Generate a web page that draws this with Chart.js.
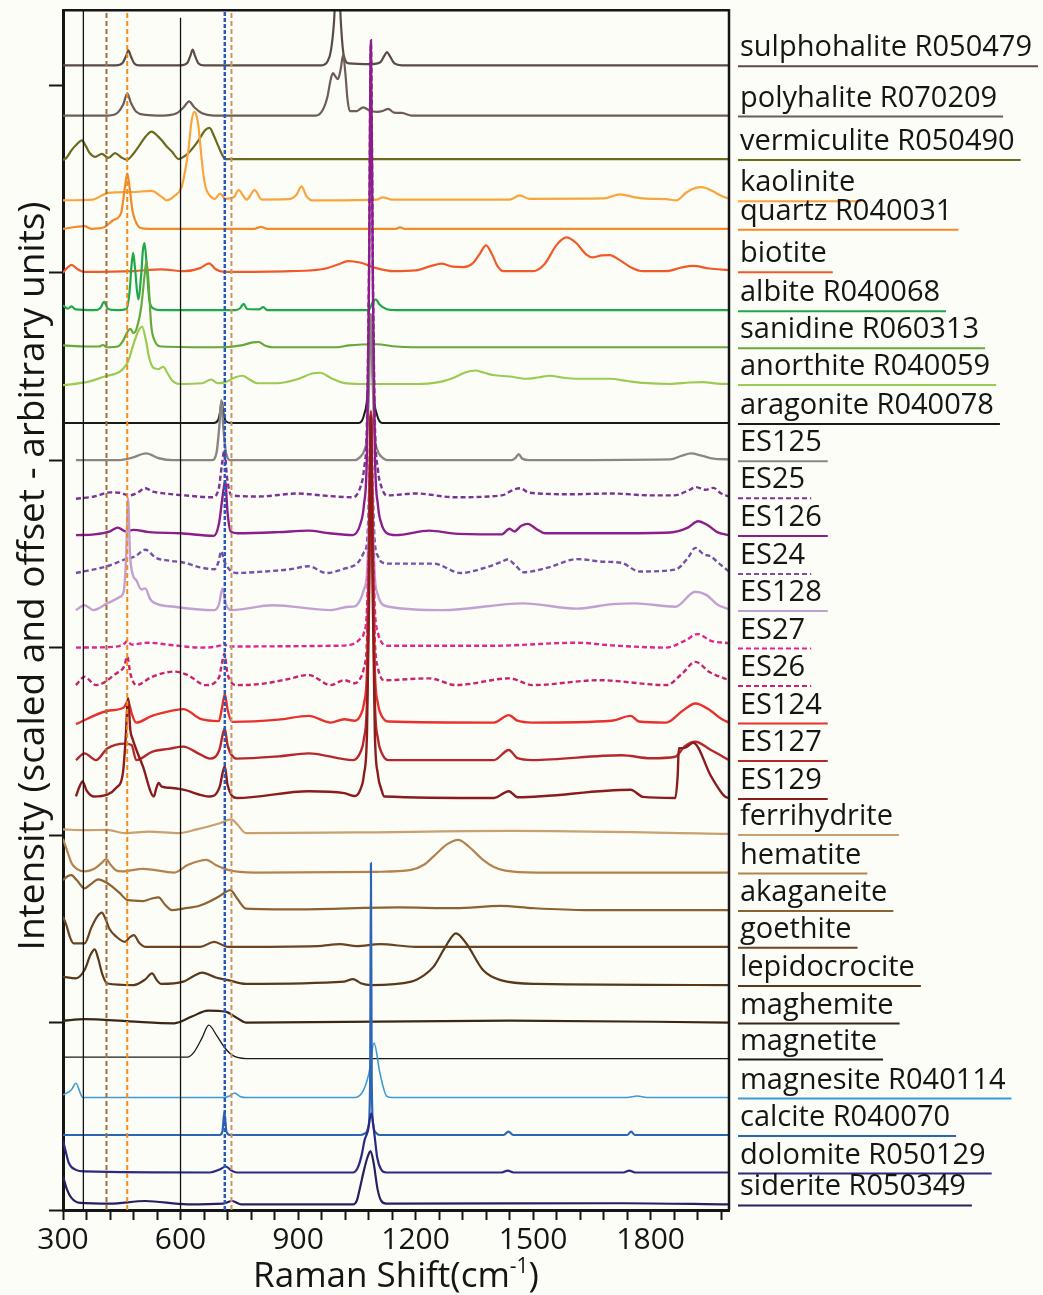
<!DOCTYPE html>
<html>
<head>
<meta charset="utf-8">
<script src="https://cdn.jsdelivr.net/npm/chart.js@4.4.1/dist/chart.umd.min.js"></script>
<style>
  html, body { margin: 0; padding: 0; background: #fdfdf8; }
  #wrap { width: 1043px; height: 1295px; }
</style>
</head>
<body>
<div id="wrap"><canvas id="raman" width="1043" height="1295"></canvas></div>
<script>
// each spectrum: [Raman shift (cm-1), intensity above its own baseline]
const sulphohalite = [[300,0],[435,0],[452,0.06],[461,0.25],[467,0.4],[473,0.25],[482,0.05],[495,0],[600,0],[617,0.06],[625,0.25],[631,0.42],[637,0.25],[646,0.05],[660,0],[960,0],[975,0.1],[984,0.4],[992,1.2],[1001,3.2],[1009,1.2],[1017,0.25],[1030,0.05],[1085,0.03],[1110,0.08],[1120,0.25],[1127,0.35],[1134,0.25],[1146,0.05],[1165,0],[2000,0]];
const polyhalite = [[300,0],[415,0],[440,0.08],[454,0.3],[464,0.59],[473,0.35],[487,0.1],[510,0.02],[555,0],[590,0.06],[608,0.22],[622,0.38],[635,0.22],[655,0.06],[685,0],[945,0],[963,0.15],[975,0.5],[983,0.95],[989,1.13],[995,1.05],[1002,0.97],[1009,1.25],[1015,1.61],[1021,1.1],[1026,0.45],[1032,0.12],[1050,0.12],[1066,0.22],[1085,0.12],[1101,0.1],[1118,0.13],[1130,0.18],[1145,0.08],[1165,0.07],[1190,0],[2000,0]];
const vermiculite = [[300,-0.03],[310,0.05],[322,0.24],[336,0.4],[348,0.5],[358,0.35],[368,0.16],[382,0.06],[399,0.14],[416,0.03],[433,0.16],[448,0.05],[463,-0.02],[478,0.12],[493,0.33],[511,0.6],[526,0.73],[541,0.62],[552,0.5],[566,0.32],[578,0.2],[595,0],[608,0.06],[620,0.16],[646,0.5],[662,0.76],[674,0.83],[686,0.6],[697,0.33],[706,0.12],[714,0],[2000,0]];
const kaolinite = [[300,0],[376,0.02],[416,0.2],[476,0.22],[526,0.25],[552,0.09],[565,0],[586,0.13],[603,0.36],[612,0.8],[620,1.33],[628,2.1],[635,2.36],[641,2.25],[646,1.96],[652,1.3],[658,0.71],[664,0.35],[671,0.18],[688,0.04],[701,0.18],[714,0.04],[736,0.08],[748,0.27],[769,0.02],[789,0.27],[807,0.02],[876,0.03],[896,0.15],[909,0.37],[921,0.12],[936,0],[1100,0.02],[1117,0.08],[1140,0.02],[1440,0.02],[1466,0.13],[1490,0.04],[1680,0.05],[1722,0.16],[1760,0.08],[1800,0.04],[1840,0.03],[1866,0],[1890,0.2],[1915,0.33],[1930,0.35],[1955,0.26],[1980,0.12],[2000,0.04]];
const quartz = [[300,0],[355,0.07],[372,0],[405,0.04],[428,0.23],[448,0.41],[458,1.1],[464,1.48],[470,1.1],[477,0.5],[484,0.23],[497,0.03],[520,0],[790,0],[805,0.05],[820,0],[1150,0],[1160,0.04],[1172,0],[2000,0]];
const biotite = [[300,-0.04],[310,0.08],[322,0.17],[336,0.06],[355,-0.02],[480,0],[550,0.05],[610,0],[650,0.08],[673,0.21],[690,0.05],[710,-0.02],[880,0],[960,0.05],[1000,0.17],[1028,0.27],[1058,0.23],[1100,0.08],[1143,0],[1200,0.02],[1240,0.14],[1267,0.2],[1295,0.12],[1322,0.11],[1345,0.2],[1363,0.45],[1380,0.69],[1395,0.45],[1410,0.12],[1424,0],[1500,0],[1530,0.2],[1560,0.7],[1585,0.9],[1610,0.75],[1635,0.45],[1653,0.37],[1675,0.42],[1696,0.43],[1720,0.3],[1750,0.1],[1781,0],[1840,0],[1880,0.1],[1909,0.14],[1950,0.07],[2000,0.03]];
const albite = [[300,0.13],[312,0.04],[322,0.1],[332,0.02],[380,0],[395,0.05],[405,0.22],[415,0.03],[440,0],[462,0.03],[470,0.5],[475,1.2],[479,1.53],[484,1.1],[492,0.29],[500,1.0],[504,1.6],[508,1.79],[513,1.3],[520,0.3],[530,0.05],[550,0],[740,0],[752,0.05],[761,0.17],[770,0.03],[800,0.02],[811,0.08],[822,0],[1080,0],[1090,0.2],[1098,0.29],[1108,0.15],[1125,0.03],[1150,0],[2000,0]];
const sanidine = [[300,0.05],[360,0.02],[392,0.02],[402,0.06],[412,0],[440,0.02],[452,0.15],[464,0.4],[472,0.49],[480,0.38],[488,0.5],[500,1.1],[508,1.9],[513,2.3],[518,1.8],[525,0.6],[533,0.2],[552,0.02],[700,0],[755,0.05],[785,0.13],[800,0.14],[815,0.05],[835,0],[1000,0],[1030,0.05],[1100,0.08],[1150,0.02],[1190,0],[2000,0]];
const anorthite = [[300,-0.03],[360,0.05],[407,0.2],[440,0.3],[450,0.37],[466,0.6],[481,1.1],[494,1.45],[502,1.53],[511,1.2],[520,0.7],[531,0.43],[544,0.4],[556,0.46],[566,0.3],[578,0.1],[596,0],[655,0.02],[678,0.12],[695,0.02],[715,0.05],[740,0.18],[758,0.22],[776,0.12],[796,0.02],[846,0.02],[896,0.12],[936,0.28],[956,0.3],[986,0.15],[1016,0.03],[1060,0],[1200,0],[1260,0.05],[1296,0.16],[1325,0.3],[1352,0.36],[1375,0.3],[1398,0.24],[1440,0.2],[1483,0.14],[1515,0.18],[1543,0.22],[1575,0.17],[1611,0.14],[1696,0.14],[1740,0.08],[1781,0.03],[1850,0],[1900,0.04],[1934,0.05],[1970,0.01],[2000,0]];
const aragonite = [[300,0],[685,0],[696,0.08],[701,0.3],[705,0.58],[709,0.3],[715,0.06],[728,0],[1055,0],[1068,0.2],[1078,0.9],[1085,2.9],[1092,0.9],[1102,0.2],[1115,0],[2000,0]];
const es125 = [[333,0],[440,0],[475,0.06],[512,0.18],[545,0.05],[580,0],[680,0],[692,0.2],[699,0.9],[704,1.6],[709,0.9],[716,0.2],[728,0],[1045,0],[1060,0.1],[1068,0.23],[1076,0.66],[1081,1.95],[1086,3.9],[1091,1.95],[1096,0.66],[1104,0.23],[1112,0.1],[1128,0],[1445,0],[1455,0.06],[1463,0.16],[1472,0.04],[1490,0],[1850,0.02],[1880,0.12],[1903,0.18],[1930,0.12],[1960,0.04],[2000,0.02]];
const es25 = [[333,-0.04],[380,0.02],[420,0.13],[445,0.12],[470,0.05],[490,0.12],[510,0.24],[530,0.15],[560,0.1],[610,0.05],[680,0],[697,0.2],[706,0.9],[712,1.25],[719,0.5],[730,0.05],[800,0.02],[900,0.1],[960,0.05],[1040,0],[1060,0.3],[1068,0.73],[1076,2.06],[1081,6.05],[1086,12.1],[1091,6.05],[1096,2.06],[1104,0.73],[1112,0.3],[1127,0.05],[1200,0.1],[1300,0],[1420,0.05],[1450,0.2],[1467,0.24],[1490,0.12],[1600,0.08],[1700,0.1],[1800,0.05],[1860,0.05],[1900,0.2],[1915,0.27],[1940,0.2],[1960,0.25],[1980,0.1],[2000,0.02]];
const es126 = [[333,0],[380,0.02],[420,0.1],[440,0.2],[460,0.1],[480,0.14],[520,0.08],[600,0.05],[685,-0.02],[698,0.3],[707,1.0],[714,1.44],[720,0.6],[728,0.1],[745,0.05],[850,0.08],[926,0.12],[980,0.05],[1040,0],[1060,0.33],[1068,0.79],[1076,2.24],[1081,6.6],[1086,13.2],[1091,6.6],[1096,2.24],[1104,0.79],[1112,0.33],[1127,0.05],[1150,0],[1235,0.12],[1300,0.04],[1420,0.02],[1440,0.17],[1452,0.1],[1470,0.25],[1486,0.3],[1510,0.15],[1530,0.05],[1700,0.05],[1850,0.07],[1895,0.2],[1921,0.37],[1945,0.27],[1970,0.08],[2000,0]];
const es24 = [[333,0],[413,0.18],[458,0.36],[485,0.45],[510,0.62],[538,0.4],[570,0.33],[607,0.28],[650,0.15],[687,0.1],[697,0.3],[704,0.58],[712,0.3],[744,0],[800,0.03],[880,0.1],[927,0.18],[972,0],[1020,0.12],[1050,0.25],[1061,0.4],[1068,0.55],[1076,0.8],[1081,2.1],[1086,4.2],[1091,2.1],[1096,0.8],[1104,0.45],[1112,0.3],[1132,0.25],[1246,0.25],[1315,0],[1380,0.15],[1420,0.3],[1435,0.36],[1455,0.2],[1475,0.02],[1540,0.15],[1612,0.37],[1680,0.3],[1726,0.27],[1771,0.04],[1863,0.09],[1895,0.4],[1914,0.67],[1935,0.5],[1954,0.44],[1975,0.25],[2000,0.04]];
const es128 = [[333,0],[355,0.13],[378,0],[413,0.18],[447,0.36],[455,0.5],[461,1.4],[466,2.98],[471,1.5],[478,0.95],[487,0.8],[500,0.55],[510,0.58],[522,0.3],[532,0.2],[584,0.09],[687,0],[698,0.15],[707,0.58],[716,0.15],[732,0],[835,0.13],[983,0],[1029,0.09],[1045,0.1],[1060,0.3],[1068,0.55],[1076,1.0],[1081,2.55],[1086,5.1],[1091,2.55],[1096,0.9],[1104,0.4],[1112,0.19],[1132,0.09],[1269,0],[1475,0.18],[1612,0.04],[1703,0.16],[1760,0.18],[1863,0.09],[1914,0.49],[1943,0.4],[1970,0.15],[2000,0.02]];
const es27 = [[333,0],[430,0.02],[456,0.1],[464,0.18],[475,0.08],[515,0.13],[584,0.06],[650,0],[700,0.05],[709,0.13],[720,0.03],[1000,0.05],[1040,0.09],[1060,0.25],[1068,0.39],[1076,1.05],[1081,3.1],[1086,6.2],[1091,3.1],[1096,1.05],[1104,0.39],[1112,0.16],[1130,0.05],[1400,0.05],[1612,0.13],[1700,0.06],[1840,0],[1890,0.2],[1920,0.36],[1954,0.18],[2000,0.12]];
const es26 = [[333,0],[355,0.22],[384,0],[436,0.31],[456,0.5],[464,0.76],[472,0.3],[487,0],[527,0.22],[584,0.36],[618,0.27],[664,0],[698,0.2],[706,0.6],[712,0.84],[720,0.3],[744,0],[812,0.04],[870,0.15],[927,0.27],[983,0],[1018,0.13],[1045,0.05],[1060,0.2],[1068,0.46],[1076,1.2],[1081,3.55],[1086,7.1],[1091,3.55],[1096,1.2],[1104,0.46],[1112,0.19],[1120,0.13],[1235,0.18],[1303,0],[1440,0.18],[1498,0],[1669,0.13],[1840,0],[1880,0.3],[1914,0.62],[1950,0.35],[2000,0.13]];
const es124 = [[333,-0.04],[413,0.31],[455,0.4],[466,0.58],[475,0.25],[487,0],[527,0.18],[570,0.3],[607,0.36],[653,0.09],[698,0.04],[706,0.4],[713,0.76],[720,0.35],[732,0.02],[850,0.08],[927,0.18],[983,0],[1018,0.09],[1045,0.05],[1060,0.21],[1068,0.5],[1076,1.41],[1081,4.15],[1086,8.3],[1091,4.15],[1096,1.41],[1104,0.5],[1112,0.21],[1130,0.03],[1400,0],[1438,0.2],[1460,0.05],[1498,0],[1700,0.05],[1749,0.18],[1770,0.03],[1840,0],[1880,0.3],[1914,0.51],[1954,0.31],[1980,0.1],[2000,0]];
const es127 = [[333,0],[355,0.18],[384,0],[413,0.31],[458,0.44],[475,0.4],[487,0],[527,0.22],[570,0.3],[607,0.36],[650,0.15],[675,0.04],[700,0.3],[708,0.7],[713,0.84],[720,0.4],[744,0.04],[850,0.1],[927,0.18],[1040,0],[1060,0.23],[1068,0.56],[1076,1.58],[1081,4.65],[1086,9.3],[1091,4.65],[1096,1.58],[1104,0.56],[1112,0.23],[1130,0],[1400,0],[1438,0.27],[1460,0.05],[1498,0],[1726,0.13],[1800,0.05],[1863,0.09],[1886,0.36],[1914,0.49],[1954,0.27],[2000,0]];
const es129 = [[333,0.04],[342,0.3],[350,0.44],[360,0.2],[378,0.04],[413,0.09],[436,0.27],[453,0.67],[460,1.6],[466,2.66],[472,1.8],[478,1.56],[504,0.84],[532,0.04],[538,0.25],[544,0.4],[552,0.3],[573,0.27],[607,0.22],[675,0.04],[700,0.3],[708,0.7],[713,0.84],[720,0.35],[744,0],[927,0.18],[1018,0.13],[1045,0.05],[1060,0.25],[1068,0.61],[1076,1.74],[1081,5.1],[1086,10.2],[1091,5.1],[1096,1.74],[1104,0.61],[1112,0.25],[1120,0.04],[1400,0],[1438,0.18],[1460,0.02],[1749,0.22],[1780,0.03],[1863,0],[1869,0.6],[1872,1.33],[1886,1.33],[1909,1.47],[1954,0.58],[1989,0.04],[2000,0]];
const ferrihydrite = [[300,0.12],[360,0.1],[413,0.11],[458,0.02],[520,0.06],[595,0.02],[641,0.12],[698,0.28],[730,0.39],[745,0.25],[767,0.02],[1040,0.04],[1440,0.08],[2000,0]];
const hematite = [[300,0.9],[310,0.6],[322,0.25],[335,0.1],[355,0.03],[380,0.1],[398,0.25],[410,0.36],[422,0.2],[435,0.06],[450,0.03],[504,0.1],[584,0],[618,0.2],[645,0.3],[666,0.34],[690,0.2],[721,0.07],[790,0],[1100,0.02],[1189,0.07],[1220,0.2],[1246,0.43],[1280,0.75],[1309,0.87],[1335,0.7],[1372,0.34],[1400,0.15],[1429,0.05],[1510,0],[2000,0]];
const akaganeite = [[300,0.8],[312,0.9],[321,0.93],[335,0.8],[355,0.58],[372,0.7],[390,0.82],[408,0.75],[424,0.64],[445,0.45],[464,0.27],[504,0.24],[525,0.3],[544,0.34],[560,0.15],[578,0],[607,0.04],[650,0.12],[698,0.36],[715,0.48],[727,0.53],[745,0.3],[767,0.04],[900,0.02],[1155,0.07],[1300,0.05],[1417,0.11],[1500,0.05],[1636,0],[2000,0]];
const goethite = [[300,0.8],[308,0.6],[318,0.25],[327,0.09],[355,0.09],[373,0.53],[387,0.8],[399,0.91],[410,0.7],[418,0.49],[436,0.27],[458,0.13],[470,0.25],[481,0.31],[495,0.1],[510,0],[650,0],[686,0.13],[721,0],[950,0.02],[1007,0.07],[1050,0.02],[1109,0.07],[1200,0],[2000,0]];
const lepidocrocite = [[300,0.22],[333,0.18],[355,0.4],[370,0.8],[381,0.95],[390,0.7],[400,0.3],[413,0.04],[480,0],[510,0.15],[527,0.31],[540,0.12],[550,0.03],[607,0.09],[635,0.25],[655,0.33],[690,0.2],[721,0.13],[767,0.03],[1018,0.09],[1040,0.16],[1060,0.05],[1086,0],[1189,0.09],[1220,0.25],[1246,0.49],[1275,1.0],[1303,1.38],[1330,1.1],[1372,0.4],[1417,0.13],[1510,0.03],[2000,0]];
const maghemite = [[300,0.05],[355,0.09],[470,0.03],[584,-0.02],[629,0.16],[670,0.32],[715,0.29],[740,0.15],[767,0],[1440,0.05],[2000,0]];
const magnetite = [[300,0.04],[618,0.04],[635,0.18],[655,0.55],[672,0.89],[692,0.62],[712,0.3],[732,0.09],[767,0],[2000,0]];
const magnesite = [[300,0.07],[321,0.2],[333,0.38],[344,0.12],[350,0],[709,0],[725,0.04],[738,0.12],[752,0.03],[767,0],[1040,0],[1063,0.12],[1081,0.65],[1094,1.45],[1109,0.65],[1126,0.04],[1140,0],[1740,0],[1766,0.04],[1790,0],[2000,0]];
const calcite = [[300,0],[700,0],[707,0.1],[712,0.62],[717,0.1],[726,0],[1060,0],[1072,0.05],[1080,0.25],[1084,1.5],[1086,7.25],[1088,1.5],[1092,0.25],[1100,0.05],[1110,0],[1425,0],[1437,0.09],[1449,0],[1740,0],[1750,0.09],[1760,0],[2000,0]];
const dolomite = [[300,0.85],[306,0.6],[315,0.25],[333,0.07],[355,0.03],[675,0],[700,0.08],[716,0.16],[730,0.05],[744,0],[1040,0],[1052,0.12],[1062,0.45],[1070,0.87],[1078,1.1],[1087,1.58],[1094,1.1],[1102,0.4],[1112,0.08],[1125,0],[1420,0],[1435,0.05],[1450,0],[1730,0],[1746,0.05],[1760,0],[2000,0]];
const siderite = [[300,0.75],[310,0.4],[321,0.18],[344,0.04],[420,0.02],[510,0.09],[618,0],[709,0.02],[732,0.09],[755,0],[1040,0],[1050,0.1],[1058,0.44],[1068,0.9],[1077,1.25],[1085,1.42],[1093,1.1],[1103,0.4],[1112,0.1],[1125,0.02],[1726,0.03],[2000,0]];

// stack order, top to bottom
const traceNames = ['sulphohalite R050479', 'polyhalite R070209', 'vermiculite R050490', 'kaolinite', 'quartz R040031',
  'biotite', 'albite R040068', 'sanidine R060313', 'anorthite R040059', 'aragonite R040078',
  'ES125', 'ES25', 'ES126', 'ES24', 'ES128', 'ES27', 'ES26', 'ES124', 'ES127', 'ES129',
  'ferrihydrite', 'hematite', 'akaganeite', 'goethite', 'lepidocrocite', 'maghemite', 'magnetite',
  'magnesite R040114', 'calcite R040070', 'dolomite R050129', 'siderite R050349'];
const traceData = [sulphohalite, polyhalite, vermiculite, kaolinite, quartz,
  biotite, albite, sanidine, anorthite, aragonite,
  es125, es25, es126, es24, es128, es27, es26, es124, es127, es129,
  ferrihydrite, hematite, akaganeite, goethite, lepidocrocite, maghemite, magnetite,
  magnesite, calcite, dolomite, siderite];
const traceOffsets = [30.53, 29.19, 28.03, 26.93, 26.17, 25.04, 24.0, 23.01, 22.03, 20.99,
  20.0, 19.01, 18.0, 16.99, 16.0, 15.0, 14.0, 13.0, 12.0, 10.99,
  10.03, 9.0, 8.0, 7.02, 6.0, 5.0, 4.04, 3.0, 2.0, 1.0, 0.15];

// reference band positions (cm-1) and the top of each marker line
const markerShifts = [352, 411, 464, 600, 713, 730];
const markerTops = [32, 32, 32, 31.8, 32, 32];

// axis values
const xMin = 300, xMax = 2000, xMinorStep = 60, xLabelStep = 300;
const yMin = 0, yMax = 32, yTickStep = 5;

// styling
const traceColors = ['#5b4b45', '#6e5d55', '#6b6a1e', '#f9a43c', '#f28a26',
  '#f05a28', '#1fa84a', '#66a83c', '#9ccb54', '#1a1a1a',
  '#8c8682', '#7b3294', '#8b1e8b', '#7650a6', '#c3a0d2', '#e0268e', '#c8246e', '#e8302c', '#b5282a', '#8b1c1e',
  '#c9a06e', '#b3834f', '#8c6232', '#6b4421', '#5a381a', '#3b2716', '#1a1a1a',
  '#3d9ad6', '#2d64b4', '#2b2a82', '#2a1f5e'];
const dashedTraces = ['ES25', 'ES24', 'ES27', 'ES26'];
const lineWidths = { 'magnetite': 1.3, 'magnesite R040114': 1.6, 'aragonite R040078': 2 };
const markerColors = ['#111111', '#a0703c', '#f28c1c', '#111111', '#2a5ab8', '#c8946a'];
const markerDashes = [[], [5, 3], [5, 3], [], [4, 2], [5, 3]];
const markerWidths = [1.3, 2, 2, 1.3, 2.5, 2];

const FONT = '"Open Sans", "DejaVu Sans", sans-serif';
const INK = '#151515';

function traceDataset(i) {
  const name = traceNames[i];
  const off = traceOffsets[i];
  return {
    label: name,
    data: traceData[i].map(p => ({ x: p[0], y: off + p[1] })),
    borderColor: traceColors[i],
    borderWidth: lineWidths[name] || (name.startsWith('ES') ? 2.4 : 2.2),
    borderDash: dashedTraces.includes(name) ? [5, 3] : [],
    pointRadius: 0,
    cubicInterpolationMode: 'monotone',
    fill: false,
    // lower spectra are painted over the ones above them
    order: traceNames.length - i
  };
}

function markerDataset(i) {
  return {
    label: 'marker ' + markerShifts[i],
    data: [{ x: markerShifts[i], y: yMin }, { x: markerShifts[i], y: markerTops[i] }],
    borderColor: markerColors[i],
    borderWidth: markerWidths[i],
    borderDash: markerDashes[i],
    pointRadius: 0,
    fill: false,
    order: -1
  };
}

// frame, right-hand labels and axis titles
const decorations = {
  id: 'decorations',
  beforeDraw(chart) {
    const ctx = chart.ctx;
    ctx.save();
    ctx.fillStyle = '#fdfdf8';
    ctx.fillRect(0, 0, chart.width, chart.height);
    ctx.restore();
  },
  afterDraw(chart) {
    const { ctx, chartArea: a } = chart;
    const y = chart.scales.y;
    ctx.save();

    ctx.strokeStyle = INK;
    ctx.lineWidth = 2.5;
    ctx.beginPath();
    ctx.moveTo(a.left, a.top);
    ctx.lineTo(a.right, a.top);
    ctx.lineTo(a.right, a.bottom);
    ctx.stroke();

    ctx.font = '29px ' + FONT;
    ctx.textBaseline = 'alphabetic';
    ctx.textAlign = 'left';
    const x0 = a.right + 11;
    traceNames.forEach((name, i) => {
      const yb = y.getPixelForValue(traceOffsets[i]);
      ctx.fillStyle = INK;
      ctx.fillText(name, x0, yb - 9);
      const w = ctx.measureText(name).width;
      ctx.strokeStyle = traceColors[i];
      ctx.lineWidth = 2;
      ctx.setLineDash(dashedTraces.includes(name) ? [5, 3] : []);
      ctx.beginPath();
      ctx.moveTo(x0 - 2, yb + 1);
      ctx.lineTo(x0 + w + 6, yb + 1);
      ctx.stroke();
    });
    ctx.setLineDash([]);

    // x title with superscript
    ctx.fillStyle = INK;
    const main = 'Raman Shift(cm', sup = '-1', tail = ')';
    ctx.font = '35px ' + FONT;
    const w1 = ctx.measureText(main).width, w3 = ctx.measureText(tail).width;
    ctx.font = '21px ' + FONT;
    const w2 = ctx.measureText(sup).width;
    let tx = (a.left + a.right) / 2 - (w1 + w2 + w3) / 2;
    const base = chart.height - 8;
    ctx.font = '35px ' + FONT;
    ctx.fillText(main, tx, base);
    tx += w1;
    ctx.font = '21px ' + FONT;
    ctx.fillText(sup, tx, base - 14);
    tx += w2;
    ctx.font = '35px ' + FONT;
    ctx.fillText(tail, tx, base);

    // y title
    ctx.translate(33, 576);
    ctx.rotate(-Math.PI / 2);
    ctx.textAlign = 'center';
    ctx.textBaseline = 'middle';
    ctx.font = '37px ' + FONT;
    ctx.fillText('Intensity (scaled and offset - arbitrary units)', 0, 0);

    ctx.restore();
  }
};

const datasets = markerShifts.map((_, i) => markerDataset(i))
  .concat(traceNames.map((_, i) => traceDataset(i)));

new Chart(document.getElementById('raman'), {
  type: 'line',
  data: { datasets },
  options: {
    responsive: false,
    animation: false,
    events: [],
    layout: { padding: { left: 0, right: 314, top: 10, bottom: 0 } },
    plugins: { legend: { display: false }, tooltip: { enabled: false } },
    scales: {
      x: {
        type: 'linear',
        min: xMin,
        max: xMax,
        ticks: {
          stepSize: xMinorStep,
          includeBounds: false,
          autoSkip: false,
          maxRotation: 0,
          padding: 2,
          color: INK,
          font: { family: FONT, size: 30 },
          callback: v => (v % xLabelStep === 0 ? String(v) : '')
        },
        grid: { drawOnChartArea: false, drawTicks: true, tickLength: 10, tickWidth: 2, tickColor: INK },
        border: { color: INK, width: 3 },
        afterFit: s => { s.height = 85; }
      },
      y: {
        type: 'linear',
        min: yMin,
        max: yMax,
        ticks: { stepSize: yTickStep, includeBounds: false, callback: () => '' },
        grid: { drawOnChartArea: false, drawTicks: true, tickLength: 14, tickWidth: 2, tickColor: INK },
        border: { color: INK, width: 3 },
        afterFit: s => { s.width = 63; }
      }
    }
  },
  plugins: [decorations]
});
</script>
</body>
</html>
